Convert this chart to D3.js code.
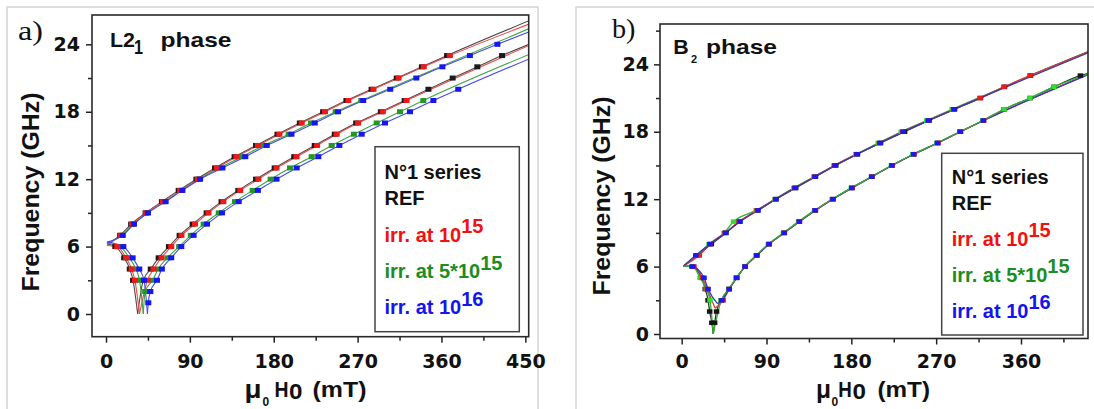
<!DOCTYPE html>
<html><head><meta charset="utf-8">
<script src="https://cdn.jsdelivr.net/npm/d3@7"></script>
<style>body{margin:0;background:#fff;}svg{display:block;}</style>
</head><body>
<svg id="chart" width="1094" height="409"></svg>
<script>
// ---------------- DATA (field mT, frequency GHz) ----------------
// series order: REF, irr. 10^15, irr. 5*10^15, irr. 10^16
const xTicksA = [0, 90, 180, 270, 360, 450];
const xMinorA = [45, 135, 225, 315, 405];
const xTicksB = [0, 90, 180, 270, 360];
const xMinorB = [45, 135, 225, 315, 405];
const yTicks = [0, 6, 12, 18, 24];
const yMinorA = [3, 9, 15, 21];
const yMinorB = [3, 9, 15, 21, 27];

const legendMain = ["irr. at 10", "irr. at 5*10", "irr. at 10"];
const legendSup = ["15", "15", "16"];

// Panel a (L2_1 phase) measured points [H, f]
const aUpRef = [[15,7],[27,8],[42.5,9],[60,10],[78,11],[97,12],[117,13],[138,14],[161,15],[184,16],[208,17],[233,18],[258,19],[285,20],[312,21],[339,22],[366,23]];
const aUpR15 = [[15.5,7],[28,8],[43,9],[61,10],[79.5,11],[98.5,12],[119,13],[140,14],[163,15],[186,16],[210,17],[235,18],[260,19],[287,20],[314,21],[341,22],[369,23]];
const aUpG5 = [[17,7],[29.5,8],[44.5,9],[63,10],[81,11],[100,12],[122,13],[146,14],[169,15],[196,16],[220,17],[246.5,18],[274,19]];
const aUpB16 = [[18,7],[30,8],[45,9],[64,10],[82,11],[101,12],[125,13],[149.5,14],[172.5,15],[199,16],[224,17],[249,18],[276,19],[305,20],[333,21],[361,22],[390.5,23],[420,24]];
const aLoRef = [[10,6],[19.5,5],[25.5,4],[29,3],[40,3],[48,4],[56.5,5],[67.5,6],[79,7],[93,8],[108,9],[124,10],[142,11],[161,12],[181,13],[202,14],[224,15],[245.5,16],[268.5,17],[295,18],[320.5,19],[346,20],[372,21],[398.5,22],[425,23]];
const aLoR15 = [[12,6],[21.5,5],[27.5,4],[31,3],[44.5,3],[51,4],[59.5,5],[70,6],[81,7],[95.5,8],[110,9],[126,10],[144,11],[163.5,12],[183,13],[204.5,14],[226.5,15],[247.5,16],[270.5,17],[297,18],[322.5,19]];
const aLoG5 = [[15,6],[25,5],[32,4],[36,3],[42,2],[50,3],[56,4],[66,5],[78.5,6],[91,7],[104.8,8],[121,9],[138.4,10],[157.4,11],[176.7,12],[197.5,13],[220.7,14],[242.2,15],[266,16],[290.5,17],[315.5,18],[340.5,19]];
const aLoB16 = [[18.6,6],[28.6,5],[35.7,4],[40.8,3],[45.4,1],[47.6,2],[54.7,3],[60,4],[70,5],[80.8,6],[94,7],[108.4,8],[124.5,9],[142.4,10],[163,11],[183,12],[204.6,13],[227.8,14],[250.4,15],[274.4,16],[299.4,17],[326.2,18],[351.3,19],[378,20]];
// Panel a fit-curve anchors
const aFitStartH = [1, 1, 1, 1];
const aFitStartF = [6.25, 6.1, 6.3, 6.4];
const aFitDipH = [34, 36, 40, 44.5];
const aFitDipF = [0, 0, 0, 0];
const aFitEndH = [454, 454, 454, 454];
const aFitEndUpF = [26.1, 25.8, 25.4, 25.1];
const aFitEndLoF = [24.0, 23.9, 23.1, 22.7];

// Panel b (B2 phase) measured points [H, f]
const bUpRef = [[17,7],[31.5,8],[47,9],[61,10],[80.5,11],[100,12],[121,13],[142,14],[163.5,15],[186.5,16],[211,17],[236.5,18],[262.5,19],[289.5,20],[317,21],[342.5,22],[370,23]];
const bUpR15 = [[18.7,7],[30,8],[46,9],[61,10],[80,11],[99.5,12],[120,13],[141,14],[162,15],[185.5,16],[210,17],[234.5,18],[261.5,19],[288.5,20],[316.6,21],[342,22],[369.7,23]];
const bUpG5 = [[16,7],[29,8],[45,9],[55,10],[79,11],[99,12],[119,13],[140.5,14],[162,15],[185,16],[208.5,17],[233,18],[260,19],[287,20]];
const bUpB16 = [[15,7],[30,8],[46.5,9],[62,10],[81,11],[100,12],[120.3,13],[141.5,14],[162.7,15],[186,16],[210.5,17],[235,18],[261.8,19],[289,20]];
const bLoRef = [[11,6],[21,5],[25,4],[28,3],[29.7,2],[32,1],[35,1],[37,2],[42,3],[50,4],[58,5],[67,6],[79.5,7],[92.5,8],[108.5,9],[124.5,10],[141.5,11],[160,12],[180.5,13],[201.5,14],[223,15],[246,16],[271.5,17],[295.5,18],[320,19],[342,20],[369.7,21],[395,22],[423,23]];
const bLoR15 = [[13,6],[22,5],[27,4],[44,3],[50.5,4],[58.5,5],[67.5,6],[80,7],[93,8],[109,9],[125,10],[142,11],[160.5,12],[181,13],[202,14],[223.5,15],[246.5,16],[272,17],[296,18],[320.5,19]];
const bLoG5 = [[12,6],[19.5,5],[26,4],[30,3],[42,3],[50,4],[58,5],[67,6],[79,7],[92,8],[108,9],[124,10],[141,11],[160,12],[180,13],[201.7,14],[222.5,15],[245.5,16],[271,17],[295,18],[319.5,19],[342,20],[369.5,21],[395,22]];
const bLoB16 = [[11.7,6],[23.7,5],[28,4],[42.5,3],[50.5,4],[58.4,5],[67.2,6],[79.6,7],[92.6,8],[108.6,9],[124.8,10],[141.5,11],[160.5,12],[180.4,13],[201.7,14],[223,15],[246,16],[271.3,17],[295.4,18],[320,19]];
// Panel b fit-curve anchors
const bFitStartH = [2, 2, 2, 2];
const bFitStartF = [6.05, 6.05, 6.05, 6.05];
const bFitDipH = [33.5, 35.5, 33.5, 38];
const bFitDipF = [0, 2.3, 0, 2.7];
const bFitEndH = [432, 432, 432, 432];
const bFitEndUpF = [25.15, 25.1, 25.1, 25.05];
const bFitEndLoF = [23.2, 23.15, 23.15, 23.1];

// ---------------- DRAWING ----------------
const SANS = "'Liberation Sans', Arial, sans-serif";
const TICKFONT = "'DejaVu Sans', sans-serif";
const svg = d3.select("#chart");
svg.append("rect").attr("width", 1094).attr("height", 409).attr("fill", "#fff");
// outer panel frames
svg.append("rect").attr("x", 7).attr("y", 7).attr("width", 531).attr("height", 430)
  .attr("fill", "none").attr("stroke", "#d4d4d4").attr("stroke-width", 1.5);
svg.append("rect").attr("x", 576).attr("y", 7).attr("width", 540).attr("height", 430)
  .attr("fill", "none").attr("stroke", "#d4d4d4").attr("stroke-width", 1.5);

function drawPanel(cfg) {
  const x = d3.scaleLinear().domain(cfg.xDom).range([cfg.left, cfg.right]);
  const y = d3.scaleLinear().domain(cfg.yDom).range([cfg.bottom, cfg.top]);
  const g = svg.append("g");
  const clipId = cfg.id + "-clip";
  svg.append("clipPath").attr("id", clipId).append("rect")
    .attr("x", cfg.left).attr("y", cfg.top)
    .attr("width", cfg.right - cfg.left).attr("height", cfg.bottom - cfg.top);

  const styleTicks = s => {
    s.select(".domain").remove();
    s.selectAll("line").attr("stroke", "#222").attr("stroke-width", 1.5);
  };
  // minor ticks
  g.append("g").attr("transform", `translate(0,${cfg.bottom})`)
    .call(d3.axisBottom(x).tickValues(cfg.xMinor).tickSize(4).tickFormat(""))
    .call(styleTicks);
  g.append("g").attr("transform", `translate(${cfg.left},0)`)
    .call(d3.axisLeft(y).tickValues(cfg.yMinor).tickSize(4).tickFormat(""))
    .call(styleTicks);
  // major ticks
  const xa = g.append("g").attr("transform", `translate(0,${cfg.bottom})`)
    .call(d3.axisBottom(x).tickValues(cfg.xMajor).tickSize(6).tickFormat(d3.format("d")))
    .call(styleTicks);
  xa.selectAll("text").attr("dy", null).attr("y", cfg.xLabelDy)
    .attr("font-family", TICKFONT).attr("font-weight", "bold").attr("font-size", 19).attr("fill", "#111");
  const ya = g.append("g").attr("transform", `translate(${cfg.left},0)`)
    .call(d3.axisLeft(y).tickValues(yTicks).tickSize(6).tickPadding(cfg.yPad).tickFormat(d3.format("d")))
    .call(styleTicks);
  ya.selectAll("text").attr("font-family", TICKFONT).attr("font-weight", "bold").attr("font-size", 19).attr("fill", "#111");

  // data
  const plot = g.append("g").attr("clip-path", `url(#${clipId})`);
  const line = d3.line().x(d => x(d[0])).y(d => y(d[1])).curve(d3.curveMonotoneX);
  const fit = cfg.fit;
  const segs = (i) => {
    const s = [fit.sh[i], fit.sf[i]], dip = [fit.dh[i], fit.df[i]];
    const up = [s, ...cfg.up[i], [fit.eh[i], fit.euf[i]]];
    const lo = cfg.lo[i];
    const desc = [s, ...lo.filter(p => p[0] < fit.dh[i]).sort((a, b) => a[0] - b[0]), dip];
    const rise = [dip, ...lo.filter(p => p[0] > fit.dh[i]).sort((a, b) => a[0] - b[0]), [fit.eh[i], fit.elf[i]]];
    return {up, desc, rise};
  };
  cfg.lineOrderUp.forEach(i => {
    plot.append("path").attr("d", line(segs(i).up)).attr("fill", "none")
      .attr("stroke", cfg.lineColors[i]).attr("stroke-width", cfg.lineW);
  });
  cfg.lineOrderLo.forEach(i => {
    const s = segs(i);
    [s.desc, s.rise].forEach(seg => plot.append("path").attr("d", line(seg)).attr("fill", "none")
      .attr("stroke", cfg.lineColors[i]).attr("stroke-width", cfg.lineW));
  });
  cfg.ptOrder.forEach(i => {
    const pts = cfg.up[i].concat(cfg.lo[i]);
    plot.append("g").selectAll("rect").data(pts).join("rect")
      .attr("x", d => x(d[0]) - cfg.mw / 2).attr("y", d => y(d[1]) - cfg.mh / 2)
      .attr("width", cfg.mw).attr("height", cfg.mh).attr("fill", cfg.ptColors[i]);
  });

  // frame
  g.append("rect").attr("x", cfg.left).attr("y", cfg.top)
    .attr("width", cfg.right - cfg.left).attr("height", cfg.bottom - cfg.top)
    .attr("fill", "none").attr("stroke", "#2a2a2a").attr("stroke-width", 1.6);

  // legend
  const L = cfg.legend;
  g.append("rect").attr("x", L.x0).attr("y", L.y0).attr("width", L.x1 - L.x0).attr("height", L.y1 - L.y0)
    .attr("fill", "#fff").attr("stroke", "#444").attr("stroke-width", 1.5);
  const lt = (txt, yy, col) => g.append("text").attr("x", L.tx).attr("y", yy)
    .attr("font-family", SANS).attr("font-weight", "bold").attr("font-size", 20).attr("fill", col).text(txt);
  lt("N°1 series", L.ys[0], "#111");
  lt("REF", L.ys[1], "#111");
  const legCols = ["#f21010", "#1e8c1e", "#1414f0"];
  legendMain.forEach((m, k) => {
    const t = g.append("text").attr("x", L.tx).attr("y", L.ys[k + 2])
      .attr("font-family", SANS).attr("font-weight", "bold").attr("font-size", 20).attr("fill", legCols[k]);
    t.append("tspan").text(m);
    t.append("tspan").attr("dy", -L.supRaise).text(legendSup[k]);
  });

  // axis titles
  svg.append("text").attr("transform", `translate(${cfg.yTitle[0]},${cfg.yTitle[1]}) rotate(-90)`)
    .attr("text-anchor", "middle").attr("font-family", SANS).attr("font-weight", "bold")
    .attr("font-size", 24).attr("fill", "#111").attr("textLength", 199).attr("lengthAdjust", "spacingAndGlyphs")
    .text("Frequency (GHz)");
  const xt = cfg.xTitle;
  const addT = (txt, xx, yy, fs, tl) => {
    const t = svg.append("text").attr("x", xx).attr("y", yy).attr("font-family", SANS)
      .attr("font-weight", "bold").attr("font-size", fs).attr("fill", "#111").text(txt);
    if (tl) t.attr("textLength", tl).attr("lengthAdjust", "spacingAndGlyphs");
    return t;
  };
  addT("μ", xt.mu, xt.base + 1, 25, xt.muW);
  addT("0", xt.sub, xt.base + 9, 12);
  addT("H", xt.h, xt.base, 22, xt.hW);
  addT("0", xt.zero, xt.base + 2.5, 22, xt.zW);
  addT("(mT)", xt.paren, xt.base, 22, xt.parenW);
  return {x, y};
}

drawPanel({
  id: "pa", left: 92, right: 528.7, top: 15, bottom: 336.7,
  xDom: [-15.02, 453.6], yDom: [-2.02, 26.61],
  xMajor: xTicksA, xMinor: xMinorA, yMinor: yMinorA, xLabelDy: 31.3, yPad: 6,
  up: [aUpRef, aUpR15, aUpG5, aUpB16], lo: [aLoRef, aLoR15, aLoG5, aLoB16],
  fit: {sh: aFitStartH, sf: aFitStartF, dh: aFitDipH, df: aFitDipF, eh: aFitEndH, euf: aFitEndUpF, elf: aFitEndLoF},
  lineColors: ["#4a4a4a", "#f04848", "#3fa53f", "#4848f0"], lineW: 1.1,
  ptColors: ["#1a1a1a", "#f01818", "#239623", "#1616f2"],
  lineOrderUp: [0, 1, 2, 3], lineOrderLo: [0, 1, 2, 3], ptOrder: [0, 2, 1, 3], mw: 6, mh: 5,
  legend: {x0: 375, y0: 146.7, x1: 519.3, y1: 331.7, tx: 384.5, ys: [178.5, 205, 241.7, 278.3, 314.3], supRaise: 8.5},
  yTitle: [39.3, 192],
  xTitle: {mu: 244.5, sub: 262.5, h: 274.5, zero: 289, paren: 312.5, base: 396.7, muW: 17, hW: 14, zW: 13.5, parenW: 54}
});

drawPanel({
  id: "pb", left: 660, right: 1088, top: 24, bottom: 338.5,
  xDom: [-23, 431.1], yDom: [-0.4, 27.59],
  xMajor: xTicksB, xMinor: xMinorB, yMinor: yMinorB, xLabelDy: 29.5, yPad: 5,
  up: [bUpRef, bUpR15, bUpG5, bUpB16], lo: [bLoRef, bLoR15, bLoG5, bLoB16],
  fit: {sh: bFitStartH, sf: bFitStartF, dh: bFitDipH, df: bFitDipF, eh: bFitEndH, euf: bFitEndUpF, elf: bFitEndLoF},
  lineColors: ["#333333", "#e23a3a", "#35b035", "#3838b8"], lineW: 1.3,
  ptColors: ["#151515", "#f01818", "#2ee02e", "#1818f0"],
  lineOrderUp: [0, 2, 1, 3], lineOrderLo: [0, 1, 3, 2], ptOrder: [0, 2, 1, 3], mw: 5.5, mh: 4.5,
  legend: {x0: 941.7, y0: 153.3, x1: 1083, y1: 335, tx: 951.7, ys: [184, 210, 245.7, 281.7, 318.3], supRaise: 9},
  yTitle: [610, 196],
  xTitle: {mu: 816, sub: 831.5, h: 838.3, zero: 852.5, paren: 877.5, base: 396.7, muW: 15, hW: 13.5, zW: 13.5, parenW: 52.5}
});

// panel letters and titles
const serif = "'Liberation Serif', 'Times New Roman', serif";
svg.append("text").attr("x", 18).attr("y", 40).attr("font-family", serif).attr("font-size", 27)
  .attr("fill", "#111").attr("textLength", 25).attr("lengthAdjust", "spacingAndGlyphs").text("a)");
svg.append("text").attr("x", 612).attr("y", 38).attr("font-family", serif).attr("font-size", 27)
  .attr("fill", "#111").attr("textLength", 23.5).attr("lengthAdjust", "spacingAndGlyphs").text("b)");
const tt = (txt, xx, yy, fs, tl) => {
  const t = svg.append("text").attr("x", xx).attr("y", yy).attr("font-family", SANS)
    .attr("font-weight", "bold").attr("font-size", fs).attr("fill", "#111").text(txt);
  if (tl) t.attr("textLength", tl).attr("lengthAdjust", "spacingAndGlyphs");
};
tt("L2", 110, 47, 20.5, 25);
tt("1", 134, 53.5, 20.5, 9);
tt("phase", 160.5, 47, 21, 71);
tt("B", 673.3, 54, 20, 15.5);
tt("2", 691, 62.5, 11);
tt("phase", 706, 54, 21, 71);
</script>
</body></html>
